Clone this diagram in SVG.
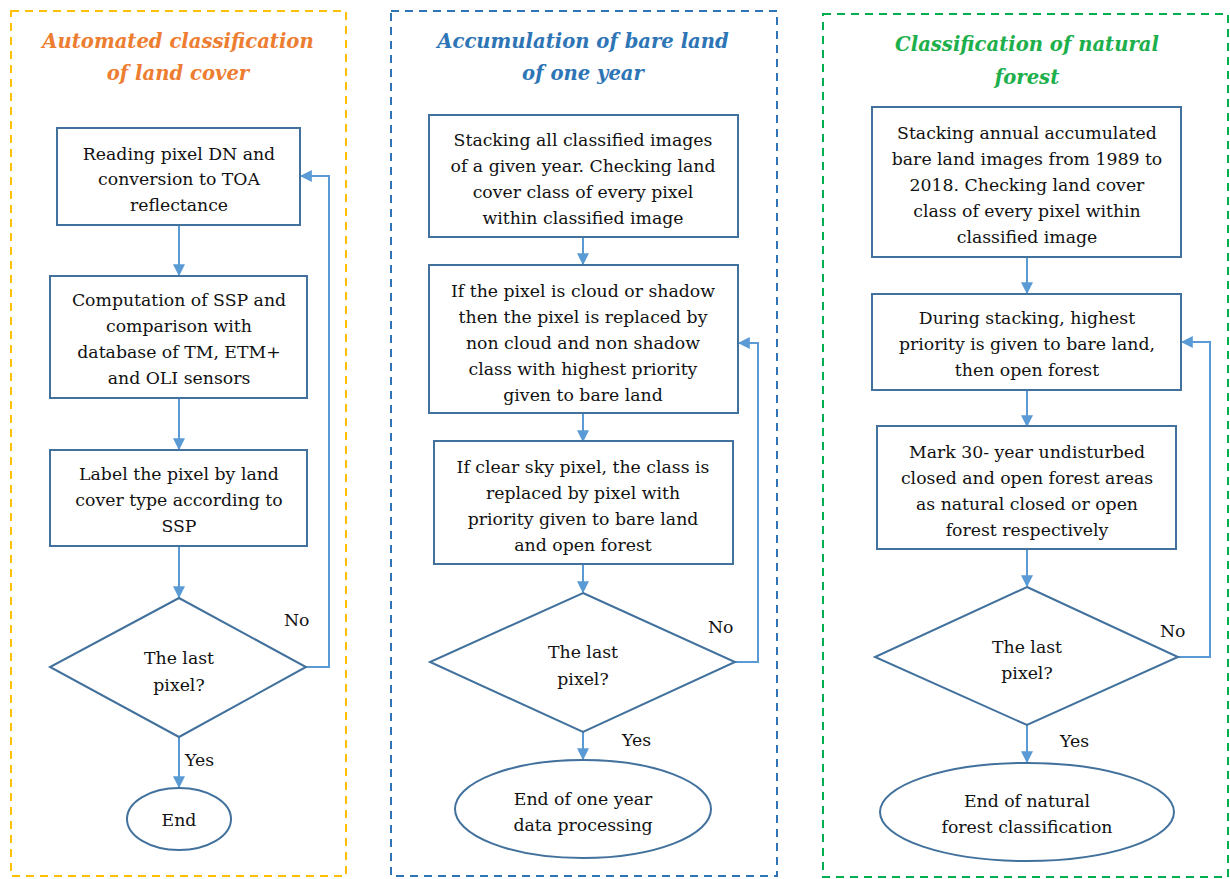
<svg xmlns="http://www.w3.org/2000/svg" width="1230" height="879" viewBox="0 0 1230 879">
<defs>
<style>
.frame{fill:none;stroke-width:2;stroke-dasharray:8 6}
.title{font-family:'DejaVu Serif','Liberation Serif',serif;font-weight:bold;font-style:italic;font-size:19.6px;text-anchor:middle}
.node{fill:#fff;stroke:#41719C;stroke-width:2}
.t{font-family:'DejaVu Serif','Liberation Serif',serif;font-size:17.3px;fill:#111;text-anchor:middle}
.lbl{font-family:'DejaVu Serif','Liberation Serif',serif;font-size:17.3px;fill:#111}
.c{fill:none;stroke:#5B9BD5;stroke-width:2}
</style>
<marker id="ah" viewBox="0 0 10 10" refX="9" refY="5" markerWidth="6" markerHeight="6" orient="auto" markerUnits="strokeWidth">
<path d="M0,0 L10,5 L0,10 z" fill="#5B9BD5"/>
</marker>
</defs>
<rect width="1230" height="879" fill="#fff"/>

<g id="panel1">
<rect class="frame" x="11" y="11" width="335" height="865" stroke="#FFC000"/>
<text class="title" fill="#ED7D31" x="178" y="48">Automated classification</text>
<text class="title" fill="#ED7D31" x="178" y="80">of land cover</text>
</g>
<g id="panel2">
<rect class="frame" x="391" y="11" width="386" height="865" stroke="#2E75B6"/>
<text class="title" fill="#2E75B6" x="583" y="48">Accumulation of bare land</text>
<text class="title" fill="#2E75B6" x="583" y="80">of one year</text>
</g>
<g id="panel3">
<rect class="frame" x="823" y="14" width="405" height="863" stroke="#00B050"/>
<text class="title" fill="#1DAF4B" x="1027" y="51">Classification of natural</text>
<text class="title" fill="#1DAF4B" x="1027" y="84">forest</text>
</g>

<g id="connectors">
<line class="c" x1="179" y1="225" x2="179" y2="275" marker-end="url(#ah)"/>
<line class="c" x1="179" y1="398" x2="179" y2="449" marker-end="url(#ah)"/>
<line class="c" x1="179" y1="546" x2="179" y2="597" marker-end="url(#ah)"/>
<line class="c" x1="179" y1="737" x2="179" y2="787" marker-end="url(#ah)"/>
<polyline class="c" points="306,667 329,667 329,176 301,176" marker-end="url(#ah)"/>
<text class="lbl" x="284" y="626">No</text>
<text class="lbl" x="185" y="766">Yes</text>

<line class="c" x1="583" y1="237" x2="583" y2="264" marker-end="url(#ah)"/>
<line class="c" x1="583" y1="413" x2="583" y2="441" marker-end="url(#ah)"/>
<line class="c" x1="583" y1="564" x2="583" y2="592" marker-end="url(#ah)"/>
<line class="c" x1="583" y1="732" x2="583" y2="759" marker-end="url(#ah)"/>
<polyline class="c" points="735,662 758,662 758,343 739,343" marker-end="url(#ah)"/>
<text class="lbl" x="708" y="633">No</text>
<text class="lbl" x="622" y="746">Yes</text>

<line class="c" x1="1027" y1="257" x2="1027" y2="293" marker-end="url(#ah)"/>
<line class="c" x1="1027" y1="390" x2="1027" y2="426" marker-end="url(#ah)"/>
<line class="c" x1="1027" y1="549" x2="1027" y2="586" marker-end="url(#ah)"/>
<line class="c" x1="1027" y1="725" x2="1027" y2="762" marker-end="url(#ah)"/>
<polyline class="c" points="1178,657 1210,657 1210,342 1182,342" marker-end="url(#ah)"/>
<text class="lbl" x="1160" y="637">No</text>
<text class="lbl" x="1060" y="747">Yes</text>
</g>

<g id="p1-read">
<rect class="node" x="57" y="128" width="243" height="97"/>
<text class="t" x="179" y="160">Reading pixel DN and</text>
<text class="t" x="179" y="185">conversion to TOA</text>
<text class="t" x="179" y="211">reflectance</text>
</g>
<g id="p1-ssp">
<rect class="node" x="50" y="276" width="257" height="122"/>
<text class="t" x="179" y="306">Computation of SSP and</text>
<text class="t" x="179" y="332">comparison with</text>
<text class="t" x="179" y="358">database of TM, ETM+</text>
<text class="t" x="179" y="384">and OLI sensors</text>
</g>
<g id="p1-label">
<rect class="node" x="50" y="450" width="257" height="96"/>
<text class="t" x="179" y="480">Label the pixel by land</text>
<text class="t" x="179" y="506">cover type according to</text>
<text class="t" x="179" y="532">SSP</text>
</g>
<g id="p1-decision">
<polygon class="node" points="179,598 306,667 179,737 50,667"/>
<text class="t" x="179" y="664">The last</text>
<text class="t" x="179" y="691">pixel?</text>
</g>
<g id="p1-end">
<ellipse class="node" cx="179" cy="819" rx="52" ry="31"/>
<text class="t" x="179" y="826">End</text>
</g>

<g id="p2-stack">
<rect class="node" x="429" y="115" width="309" height="122"/>
<text class="t" x="583" y="146">Stacking all classified images</text>
<text class="t" x="583" y="172">of a given year. Checking land</text>
<text class="t" x="583" y="198">cover class of every pixel</text>
<text class="t" x="583" y="224">within classified image</text>
</g>
<g id="p2-cloud">
<rect class="node" x="429" y="265" width="309" height="148"/>
<text class="t" x="583" y="297">If the pixel is cloud or shadow</text>
<text class="t" x="583" y="323">then the pixel is replaced by</text>
<text class="t" x="583" y="349">non cloud and non shadow</text>
<text class="t" x="583" y="375">class with highest priority</text>
<text class="t" x="583" y="401">given to bare land</text>
</g>
<g id="p2-clear">
<rect class="node" x="434" y="441" width="299" height="123"/>
<text class="t" x="583" y="473">If clear sky pixel, the class is</text>
<text class="t" x="583" y="499">replaced by pixel with</text>
<text class="t" x="583" y="525">priority given to bare land</text>
<text class="t" x="583" y="551">and open forest</text>
</g>
<g id="p2-decision">
<polygon class="node" points="583,593 735,662 583,732 430,662"/>
<text class="t" x="583" y="658">The last</text>
<text class="t" x="583" y="685">pixel?</text>
</g>
<g id="p2-end">
<ellipse class="node" cx="583" cy="809" rx="128" ry="49"/>
<text class="t" x="583" y="805">End of one year</text>
<text class="t" x="583" y="831">data processing</text>
</g>

<g id="p3-stack">
<rect class="node" x="872" y="107" width="309" height="150"/>
<text class="t" x="1027" y="139">Stacking annual accumulated</text>
<text class="t" x="1027" y="165">bare land images from 1989 to</text>
<text class="t" x="1027" y="191">2018. Checking land cover</text>
<text class="t" x="1027" y="217">class of every pixel within</text>
<text class="t" x="1027" y="243">classified image</text>
</g>
<g id="p3-priority">
<rect class="node" x="872" y="294" width="309" height="96"/>
<text class="t" x="1027" y="324">During stacking, highest</text>
<text class="t" x="1027" y="350">priority is given to bare land,</text>
<text class="t" x="1027" y="376">then open forest</text>
</g>
<g id="p3-mark">
<rect class="node" x="877" y="426" width="299" height="123"/>
<text class="t" x="1027" y="458">Mark 30- year undisturbed</text>
<text class="t" x="1027" y="484">closed and open forest areas</text>
<text class="t" x="1027" y="510">as natural closed or open</text>
<text class="t" x="1027" y="536">forest respectively</text>
</g>
<g id="p3-decision">
<polygon class="node" points="1027,587 1178,657 1027,725 875,657"/>
<text class="t" x="1027" y="653">The last</text>
<text class="t" x="1027" y="679">pixel?</text>
</g>
<g id="p3-end">
<ellipse class="node" cx="1027" cy="812" rx="147" ry="49"/>
<text class="t" x="1027" y="807">End of natural</text>
<text class="t" x="1027" y="833">forest classification</text>
</g>
</svg>
